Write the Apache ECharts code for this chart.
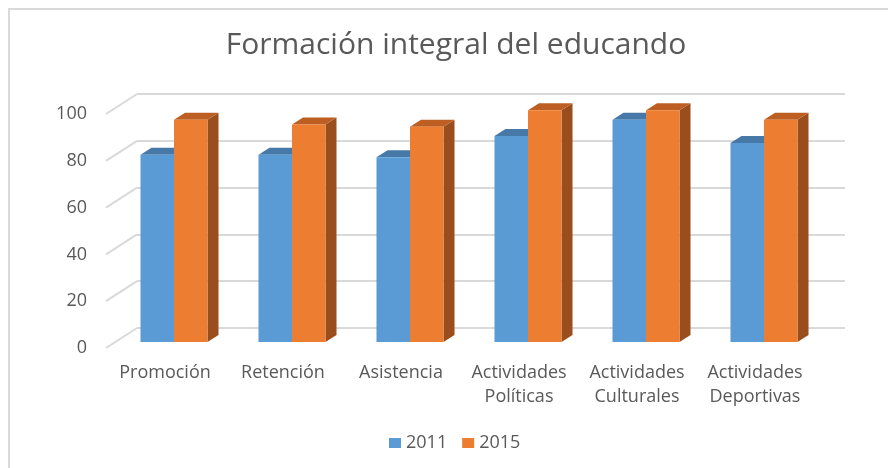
<!DOCTYPE html>
<html lang="es">
<head>
  <meta charset="UTF-8">
  <title>Formación integral del educando</title>
  <style>
    html, body { margin: 0; padding: 0; background: #fff; }
    #chart { width: 888px; height: 468px; }
  </style>
</head>
<body>
  <div id="chart"></div>
  <script src="https://cdn.jsdelivr.net/npm/echarts@6/dist/echarts.min.js"></script>
  <script>
    // datos
    const categories = ['Promoción', 'Retención', 'Asistencia', 'Actividades Políticas', 'Actividades Culturales', 'Actividades Deportivas'];
    const values2011 = [80, 80, 79, 88, 95, 85];
    const values2015 = [95, 93, 92, 99, 99, 95];
    const yTicks = [0, 20, 40, 60, 80, 100];

    const textColor = '#595959';
    const gridColor = '#d9d9d9';
    const font = 'Open Sans';

    // profundidad de las barras y del fondo (perspectiva estilo Excel)
    const barDepth = [11, -7];
    const wallDepth = [-31, 20];

    function bar3d(color, topColor, sideColor, offset) {
      return function (params, api) {
        let i = api.value(0);
        let v = api.value(1);
        let top = api.coord([i, v]);
        let base = api.coord([i, 0]);
        let w = api.size([1, 0])[0] * 0.284;
        let x0 = top[0] + offset * w;
        let x1 = x0 + w;
        let dx = barDepth[0], dy = barDepth[1];
        return {
          type: 'group',
          children: [
            {
              type: 'polygon',
              shape: { points: [[x1, top[1]], [x1 + dx, top[1] + dy], [x1 + dx, base[1] + dy], [x1, base[1]]] },
              style: { fill: sideColor }
            },
            {
              type: 'polygon',
              shape: { points: [[x0, top[1]], [x0 + dx, top[1] + dy], [x1 + dx, top[1] + dy], [x1, top[1]]] },
              style: { fill: topColor }
            },
            {
              type: 'rect',
              shape: { x: x0, y: top[1], width: w, height: base[1] - top[1] },
              style: { fill: color }
            }
          ]
        };
      };
    }

    let chart = echarts.init(document.getElementById('chart'));
    let option = {
      backgroundColor: '#fff',
      animation: false,
      graphic: [{
        type: 'rect',
        shape: { x: 9, y: 9, width: 900, height: 500 },
        style: { fill: 'none', stroke: gridColor, lineWidth: 2 },
        silent: true
      }],
      title: {
        text: 'Formación integral del educando',
        left: 451,
        top: 25,
        textAlign: 'center',
        textStyle: { fontFamily: font, fontSize: 30, fontWeight: 'normal', color: textColor }
      },
      legend: {
        data: ['2011', '2015'],
        left: 384,
        top: 429,
        icon: 'rect',
        itemWidth: 12,
        itemHeight: 10,
        itemGap: 15,
        textStyle: { fontFamily: font, fontSize: 18, color: textColor }
      },
      grid: [
        // plano frontal (etiquetas de los ejes)
        { left: 106, right: 74, top: 114, bottom: 120 },
        // pared del fondo (lineas de division)
        { left: 137, right: 43, top: 94, bottom: 140 },
        // plano de las barras
        { left: 115, right: 65, top: 108, bottom: 126 }
      ],
      xAxis: [
        {
          gridIndex: 0,
          type: 'category',
          data: categories,
          axisLine: { show: false },
          axisTick: { show: false },
          axisLabel: {
            margin: 13,
            interval: 0,
            fontFamily: font,
            fontSize: 18,
            lineHeight: 24,
            color: textColor,
            formatter: function (s) { return s.replace(' ', '\n'); }
          }
        },
        { gridIndex: 1, type: 'value', min: 0, max: 1, show: false },
        { gridIndex: 2, type: 'category', data: categories, show: false }
      ],
      yAxis: [
        {
          gridIndex: 0, type: 'value', min: 0, max: 100, interval: 20,
          axisLine: { show: false }, axisTick: { show: false }, splitLine: { show: false },
          axisLabel: { margin: 19, fontFamily: font, fontSize: 18, color: textColor }
        },
        {
          gridIndex: 1, type: 'value', min: 0, max: 100, interval: 20,
          axisLine: { show: false }, axisTick: { show: false }, axisLabel: { show: false },
          splitLine: { lineStyle: { color: gridColor, width: 2 } }
        },
        { gridIndex: 2, type: 'value', min: 0, max: 100, show: false }
      ],
      series: [
        {
          // lineas diagonales de la pared lateral
          type: 'custom',
          xAxisIndex: 1,
          yAxisIndex: 1,
          silent: true,
          data: yTicks.map(t => [0, t]),
          renderItem: function (params, api) {
            let p = api.coord([0, api.value(1)]);
            return {
              type: 'line',
              shape: { x1: p[0], y1: p[1], x2: p[0] + wallDepth[0], y2: p[1] + wallDepth[1] },
              style: { stroke: gridColor, lineWidth: 2 }
            };
          }
        },
        {
          name: '2011',
          type: 'custom',
          xAxisIndex: 2,
          yAxisIndex: 2,
          itemStyle: { color: '#5b9bd5' },
          data: values2011.map((v, i) => [i, v]),
          renderItem: bar3d('#5b9bd5', '#4679a8', '#3f6f9c', -1)
        },
        {
          name: '2015',
          type: 'custom',
          xAxisIndex: 2,
          yAxisIndex: 2,
          itemStyle: { color: '#ed7d31' },
          data: values2015.map((v, i) => [i, v]),
          renderItem: bar3d('#ed7d31', '#bd5f22', '#9a4e1d', 0)
        }
      ]
    };
    chart.setOption(option);
  </script>
</body>
</html>
